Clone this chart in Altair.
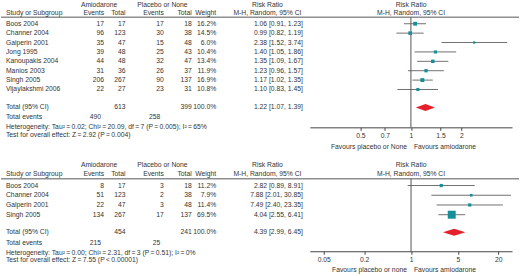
import altair as alt
import pandas as pd

FONT = "Liberation Sans"
TXT = "#333333"
FS = 6.8

# ---------------- data: panel 1 ----------------
studies1 = ["Boos 2004", "Channer 2004", "Galperin 2001", "Jong 1995",
            "Kanoupakis 2004", "Manios 2003", "Singh 2005", "Vijaylakshmi 2006"]
amio_ev1 = [17, 96, 35, 39, 44, 31, 206, 22]
amio_tot1 = [17, 123, 47, 48, 48, 36, 267, 27]
plac_ev1 = [17, 30, 15, 25, 32, 26, 90, 23]
plac_tot1 = [18, 38, 48, 43, 47, 37, 137, 31]
weight1 = [16.2, 14.5, 6.0, 10.4, 13.4, 11.9, 16.9, 10.8]
rr1 = [1.06, 0.99, 2.38, 1.40, 1.35, 1.23, 1.17, 1.10]
lo1 = [0.91, 0.82, 1.52, 1.05, 1.09, 0.96, 1.02, 0.83]
hi1 = [1.23, 1.19, 3.74, 1.86, 1.67, 1.57, 1.35, 1.45]
total1 = {"at": 613, "pt": 399, "ae": 490, "pe": 258, "rr": 1.22, "lo": 1.07, "hi": 1.39}
T = "\u2009"
het1 = f"Heterogeneity: Tau²{T}={T}0.02; Chi²{T}={T}20.09, df{T}={T}7 (P{T}={T}0.005); I²{T}={T}65%"
test1 = f"Test for overall effect: Z{T}={T}2.92 (P{T}={T}0.004)"
fav1 = ["Favours placebo or None", "Favours amiodarone"]
ticks1 = [0.5, 0.7, 1, 1.5, 2]
xdom1 = [0.25, 4]

# ---------------- data: panel 2 ----------------
studies2 = ["Boos 2004", "Channer 2004", "Galperin 2001", "Singh 2005"]
amio_ev2 = [8, 51, 22, 134]
amio_tot2 = [17, 123, 47, 267]
plac_ev2 = [3, 2, 3, 17]
plac_tot2 = [18, 38, 48, 137]
weight2 = [11.2, 7.9, 11.4, 69.5]
rr2 = [2.82, 7.88, 7.49, 4.04]
lo2 = [0.89, 2.01, 2.40, 2.55]
hi2 = [8.91, 30.85, 23.35, 6.41]
total2 = {"at": 454, "pt": 241, "ae": 215, "pe": 25, "rr": 4.39, "lo": 2.99, "hi": 6.45}
het2 = f"Heterogeneity: Tau²{T}={T}0.00; Chi²{T}={T}2.31, df{T}={T}3 (P{T}={T}0.51); I²{T}={T}0%"
test2 = f"Test for overall effect: Z{T}={T}7.55 (P{T}<{T}0.00001)"
fav2 = ["Favours placebo or none", "Favours amiodarone"]
ticks2 = [0.05, 0.2, 1, 5, 20]
xdom2 = [0.031, 32]

W = 520
X_RANGE = [310, 513]


def fmt_ci(r, l, h):
    return f"{r:.2f} [{l:.2f}, {h:.2f}]"


def panel(studies, ae, at, pe, pt, w, rr, lo, hi, tot, het, test, fav, ticks, xdom,
          H, base, step, lay):
    # lay: layout in pixels, converted to row units that go through the y scale
    def r(px):
        return (px - base) / step

    yscale = alt.Scale(domain=[r(0), r(H)], range=[0, H], nice=False, zero=False)
    xscale = alt.Scale(type="log", domain=xdom, range=X_RANGE, nice=False)
    axis = alt.Axis(values=ticks, format="~g", grid=False, title=None,
                    domainColor="#444444", tickColor="#444444", tickSize=3,
                    labelFont=FONT, labelFontSize=FS, labelColor=TXT, labelPadding=2,
                    labelFlush=False, labelOverlap=False,
                    offset=lay["axis"] - H)
    n = len(studies)
    rows = list(range(n))

    def text_layer(items, x, align):
        df = pd.DataFrame(items, columns=["t", "row"])
        return alt.Chart(df).mark_text(
            align=align, baseline="middle", font=FONT, fontSize=FS, color=TXT
        ).encode(x=alt.value(x), y=alt.Y("row:Q", scale=yscale, axis=None), text="t:N")

    h1, h2, tr, er, hr, ter, fv = (r(lay["h1"]), r(lay["h2"]), r(lay["total"]),
                                   r(lay["events"]), r(lay["het"]), r(lay["test"]),
                                   r(lay["fav"]))
    layers = []
    # forest: CI lines (carries the axis)
    fd = pd.DataFrame({"row": rows, "rr": rr, "lo": lo, "hi": hi, "w": w})
    layers.append(alt.Chart(fd).mark_rule(color="#707070", strokeWidth=1).encode(
        x=alt.X("lo:Q", scale=xscale, axis=axis), x2="hi:Q",
        y=alt.Y("row:Q", scale=yscale, axis=None)))
    # vertical line of no effect
    vl = pd.DataFrame({"x": [1], "row": [r(lay["hline"])], "row2": [r(lay["axis"])]})
    layers.append(alt.Chart(vl).mark_rule(color="#555555", strokeWidth=1).encode(
        x=alt.X("x:Q", scale=xscale, axis=axis),
        y=alt.Y("row:Q", scale=yscale, axis=None), y2="row2:Q"))
    # squares
    layers.append(alt.Chart(fd).mark_square(filled=True, color="#15909a", opacity=1).encode(
        x=alt.X("rr:Q", scale=xscale, axis=axis),
        y=alt.Y("row:Q", scale=yscale, axis=None),
        size=alt.Size("w:Q", scale=alt.Scale(domain=[0, 100], range=[0, 92]), legend=None)))
    # diamond
    half = 3.5 / step
    dd = pd.DataFrame({"x": [tot["lo"], tot["rr"], tot["hi"]],
                       "y": [tr, tr - half, tr], "y2": [tr, tr + half, tr]})
    layers.append(alt.Chart(dd).mark_area(color="#e5202b", orient="vertical", opacity=1).encode(
        x=alt.X("x:Q", scale=xscale, axis=axis),
        y=alt.Y("y:Q", scale=yscale, axis=None), y2="y2:Q"))

    # header rule (full width)
    hl = pd.DataFrame({"row": [r(lay["hline"])]})
    layers.append(alt.Chart(hl).mark_rule(color="#555555", strokeWidth=1).encode(
        x=alt.value(0), x2=alt.value(W), y=alt.Y("row:Q", scale=yscale, axis=None)))

    # table text
    layers.append(text_layer(
        [("Study or Subgroup", h2)] + list(zip(studies, rows)) +
        [("Total (95% CI)", tr), ("Total events", er), (het, hr), (test, ter)], 5, "left"))
    layers.append(text_layer([("Events", h2)] + [(str(v), i) for v, i in zip(ae, rows)], 103.5, "right"))
    layers.append(text_layer([(str(tot["ae"]), er)], 100.5, "right"))
    layers.append(text_layer([("Total", h2)] + [(str(v), i) for v, i in zip(at, rows)] +
                             [(str(tot["at"]), tr)], 125, "right"))
    layers.append(text_layer([("Events", h2)] + [(str(v), i) for v, i in zip(pe, rows)], 163.5, "right"))
    layers.append(text_layer([(str(tot["pe"]), er)], 160, "right"))
    layers.append(text_layer([("Total", h2)] + [(str(v), i) for v, i in zip(pt, rows)] +
                             [(str(tot["pt"]), tr)], 191.5, "right"))
    layers.append(text_layer([("Weight", h2)] + [(f"{v:.1f}%", i) for v, i in zip(w, rows)] +
                             [("100.0%", tr)], 216, "right"))
    layers.append(text_layer([(fmt_ci(a, b, c), i) for a, b, c, i in zip(rr, lo, hi, rows)] +
                             [(fmt_ci(tot["rr"], tot["lo"], tot["hi"]), tr)], 303, "right"))
    layers.append(text_layer([("Amiodarone", h1)], 98.5, "center"))
    layers.append(text_layer([("Placebo or None", h1)], 162, "center"))
    layers.append(text_layer([("Risk Ratio", h1), ("M-H, Random, 95% CI", h2)], 267.5, "center"))
    layers.append(text_layer([("Risk Ratio", h1), ("M-H, Random, 95% CI", h2)], 411.7, "center"))
    layers.append(text_layer([(fav[0], fv)], 407.5, "right"))
    layers.append(text_layer([(fav[1], fv)], 414.5, "left"))

    return alt.layer(*layers).properties(width=W, height=H)


top = panel(studies1, amio_ev1, amio_tot1, plac_ev1, plac_tot1, weight1, rr1, lo1, hi1,
            total1, het1, test1, fav1, ticks1, xdom1, H=160, base=23.3, step=9.43,
            lay={"h1": 4.5, "h2": 12.7, "hline": 16.7, "total": 107.3, "events": 117.3,
                 "het": 127.3, "test": 135.3, "axis": 127.3, "fav": 146.7})
bottom = panel(studies2, amio_ev2, amio_tot2, plac_ev2, plac_tot2, weight2, rr2, lo2, hi2,
               total2, het2, test2, fav2, ticks2, xdom2, H=116, base=25.7, step=9.77,
               lay={"h1": 5, "h2": 14.3, "hline": 19, "total": 72.7, "events": 83.3,
                    "het": 93.3, "test": 100.3, "axis": 91.7, "fav": 110.3})

chart = alt.vconcat(top, bottom, spacing=0).properties(
    padding=0, background="white"
).configure_view(stroke=None)

chart.save("out.html", embed_options={"renderer": "svg", "actions": False})
